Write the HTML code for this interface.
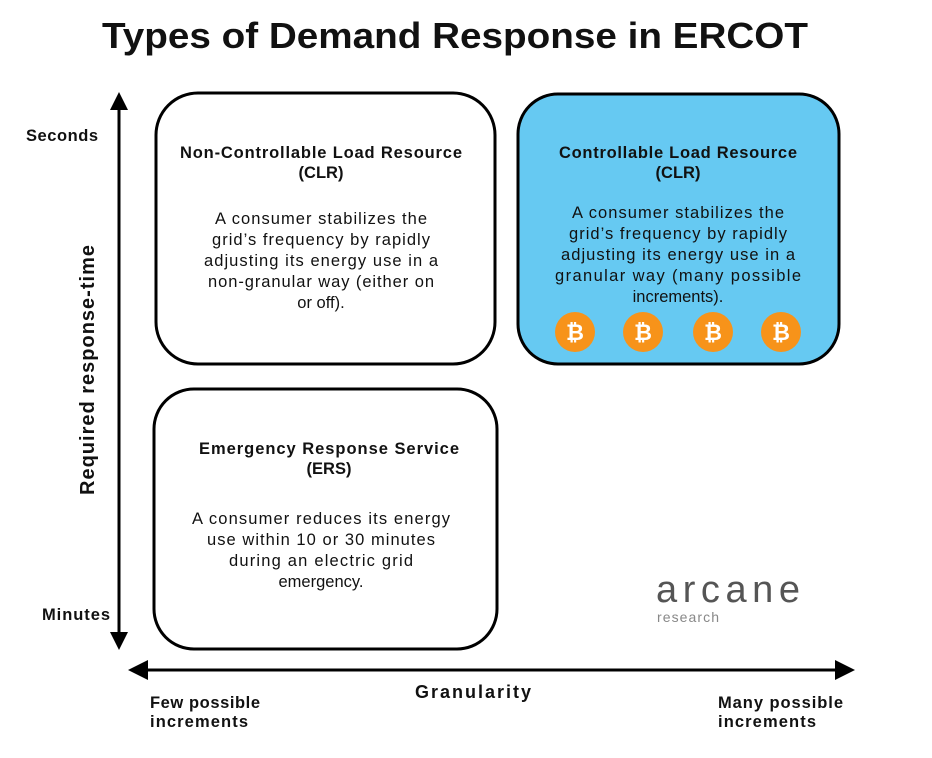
<!DOCTYPE html>
<html><head><meta charset="utf-8"><style>
html,body{margin:0;padding:0;background:#fff;}
svg text{font-family:"Liberation Sans",sans-serif;fill:#111;}
.h{font-weight:bold;font-size:16.5px;}
.b{font-size:16.5px;}
.ax{font-weight:bold;font-size:16.5px;}
</style></head><body>
<svg width="932" height="753" viewBox="0 0 932 753" xmlns="http://www.w3.org/2000/svg">
<text x="455" y="48" text-anchor="middle" textLength="706" lengthAdjust="spacingAndGlyphs" style="font-weight:bold;font-size:36px">Types of Demand Response in ERCOT</text>

<rect x="156" y="93" width="339" height="271" rx="42" fill="#fff" stroke="#000" stroke-width="3"/>
<rect x="518" y="94" width="321" height="270" rx="40" fill="#66c9f2" stroke="#000" stroke-width="3"/>
<rect x="154" y="389" width="343" height="260" rx="40" fill="#fff" stroke="#000" stroke-width="3"/>

<g text-anchor="middle">
<text class="h" x="321" y="158" textLength="282">Non-Controllable Load Resource</text>
<text class="h" x="321" y="178">(CLR)</text>
<text class="b" x="321" y="224" textLength="212">A consumer stabilizes the</text>
<text class="b" x="321" y="245" textLength="218">grid’s frequency by rapidly</text>
<text class="b" x="321" y="266" textLength="234">adjusting its energy use in a</text>
<text class="b" x="321" y="287" textLength="226">non-granular way (either on</text>
<text class="b" x="321" y="308">or off).</text>

<text class="h" x="678" y="158" textLength="238">Controllable Load Resource</text>
<text class="h" x="678" y="178">(CLR)</text>
<text class="b" x="678" y="218" textLength="212">A consumer stabilizes the</text>
<text class="b" x="678" y="239" textLength="218">grid’s frequency by rapidly</text>
<text class="b" x="678" y="260" textLength="234">adjusting its energy use in a</text>
<text class="b" x="678" y="281" textLength="246">granular way (many possible</text>
<text class="b" x="678" y="302">increments).</text>

<text class="h" x="329" y="454" textLength="260">Emergency Response Service</text>
<text class="h" x="329" y="474">(ERS)</text>
<text class="b" x="321" y="524" textLength="258">A consumer reduces its energy</text>
<text class="b" x="321" y="545" textLength="228">use within 10 or 30 minutes</text>
<text class="b" x="321" y="566" textLength="184">during an electric grid</text>
<text class="b" x="321" y="587">emergency.</text>
</g>

<g>
<circle cx="575" cy="332" r="20" fill="#f7931a"/>
<circle cx="643" cy="332" r="20" fill="#f7931a"/>
<circle cx="713" cy="332" r="20" fill="#f7931a"/>
<circle cx="781" cy="332" r="20" fill="#f7931a"/>
<g text-anchor="middle" style="font-weight:bold;font-size:22px">
<text x="575" y="340" style="fill:#fff">₿</text>
<text x="643" y="340" style="fill:#fff">₿</text>
<text x="713" y="340" style="fill:#fff">₿</text>
<text x="781" y="340" style="fill:#fff">₿</text>
</g>
</g>

<line x1="119" y1="106" x2="119" y2="636" stroke="#000" stroke-width="3"/>
<polygon points="119,92 110,110 128,110" fill="#000"/>
<polygon points="119,650 110,632 128,632" fill="#000"/>
<text class="ax" x="62" y="141" text-anchor="middle" textLength="72">Seconds</text>
<text class="ax" x="76" y="620" text-anchor="middle" textLength="68">Minutes</text>
<text class="ax" transform="translate(94,370) rotate(-90)" text-anchor="middle" textLength="250" style="font-size:20px">Required response-time</text>

<line x1="142" y1="670" x2="840" y2="670" stroke="#000" stroke-width="3"/>
<polygon points="128,670 148,660 148,680" fill="#000"/>
<polygon points="855,670 835,660 835,680" fill="#000"/>
<text class="ax" x="473" y="698" text-anchor="middle" textLength="116" style="font-size:18px">Granularity</text>
<text class="ax" x="150" y="708" textLength="110">Few possible</text>
<text class="ax" x="150" y="727" textLength="98">increments</text>
<text class="ax" x="718" y="708" textLength="125">Many possible</text>
<text class="ax" x="718" y="727" textLength="98">increments</text>

<text x="656" y="602" textLength="144" style="font-size:38px;fill:#555">arcane</text>
<text x="657" y="622" textLength="62" style="font-size:14px;fill:#888">research</text>
</svg>
</body></html>
